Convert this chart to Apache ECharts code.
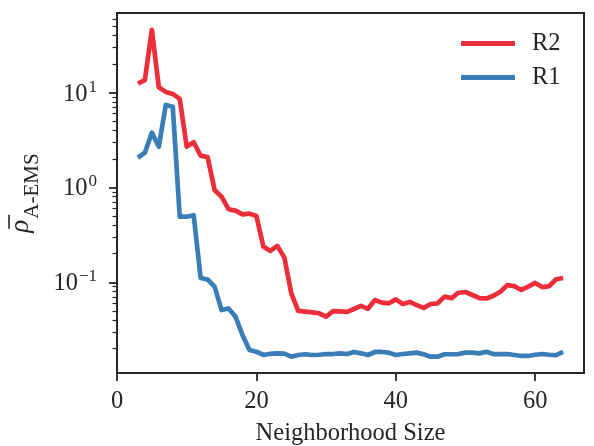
<!DOCTYPE html>
<html>
<head>
<meta charset="utf-8">
<script src="https://cdn.jsdelivr.net/npm/echarts@6/dist/echarts.min.js"></script>
<style>
  html, body { margin: 0; padding: 0; background: #ffffff; }
  #chart { width: 594px; height: 446px; }
</style>
</head>
<body>
<div id="chart"></div>
<script>
// Neighborhood sizes evaluated
const sizes = [3, 4, 5, 6, 7, 8, 9, 10, 11, 12, 13, 14, 15, 16, 17, 18, 19, 20,
  21, 22, 23, 24, 25, 26, 27, 28, 29, 30, 31, 32, 33, 34, 35, 36, 37, 38, 39, 40,
  41, 42, 43, 44, 45, 46, 47, 48, 49, 50, 51, 52, 53, 54, 55, 56, 57, 58, 59, 60,
  61, 62, 63, 64];

// Mean A-EMS value per neighborhood size, region R2
const r2 = [12.5, 13.6, 46, 11.4, 10.2, 9.7, 8.6, 2.7, 3.0, 2.17, 2.09, 0.94,
  0.80, 0.59, 0.57, 0.52, 0.53, 0.50, 0.238, 0.214, 0.242, 0.183, 0.077, 0.050,
  0.049, 0.0482, 0.0471, 0.0434, 0.0497, 0.0494, 0.0487, 0.0523, 0.0563, 0.0525,
  0.0650, 0.0610, 0.0600, 0.0660, 0.0590, 0.0620, 0.0575, 0.0537, 0.0590, 0.0600,
  0.0705, 0.0680, 0.0776, 0.0790, 0.0734, 0.0680, 0.0675, 0.0720, 0.0795, 0.0933,
  0.0910, 0.0830, 0.0900, 0.0985, 0.0890, 0.0910, 0.1076, 0.1110];

// Mean A-EMS value per neighborhood size, region R1
const r1 = [2.06, 2.33, 3.79, 2.69, 7.42, 7.11, 0.492, 0.492, 0.51, 0.111, 0.107,
  0.090, 0.051, 0.053, 0.0434, 0.0278, 0.0193, 0.0185, 0.0171, 0.0176, 0.0178,
  0.0177, 0.0164, 0.0171, 0.0174, 0.0171, 0.0172, 0.0175, 0.0175, 0.0178, 0.0175,
  0.0184, 0.0178, 0.0171, 0.0184, 0.0184, 0.0181, 0.0171, 0.0175, 0.0178, 0.0181,
  0.0174, 0.0164, 0.0164, 0.0174, 0.0174, 0.0175, 0.0181, 0.0181, 0.0178, 0.0185,
  0.0175, 0.0175, 0.0175, 0.0171, 0.0167, 0.0167, 0.0172, 0.0175, 0.0172, 0.0170,
  0.0184];

// Axis ticks
const xTicks = [0, 20, 40, 60];
const yMajorTicks = [0.1, 1, 10];
const yMinorTicks = [0.02, 0.03, 0.04, 0.05, 0.06, 0.07, 0.08, 0.09,
  0.2, 0.3, 0.4, 0.5, 0.6, 0.7, 0.8, 0.9,
  2, 3, 4, 5, 6, 7, 8, 9, 20, 30, 40, 50, 60];

const FONT = '"Liberation Serif", "DejaVu Serif", serif';
const INK = '#262626';
const RED = '#ec2d3a';
const BLUE = '#3a7db7';
const FS = 24.5;

const yMin = 0.01104, yMax = 69.3;

const chart = echarts.init(document.getElementById('chart'), null, { renderer: 'canvas' });

function pow10Label(v) {
  const e = Math.round(Math.log10(v));
  const exp = e < 0 ? '\u2212' + Math.abs(e) : String(e);
  return '{b|10}{s|' + exp + '}';
}

chart.setOption({
  animation: false,
  backgroundColor: '#ffffff',
  textStyle: { fontFamily: FONT },
  grid: {
    left: 117, right: 10, top: 13, bottom: 73,
    outerBoundsMode: 'none',
    containLabel: false,
    show: true, borderColor: INK, borderWidth: 2, backgroundColor: 'transparent'
  },
  legend: {
    orient: 'vertical',
    left: 461, top: 31,
    padding: 0,
    data: ['R2', 'R1'],
    icon: 'rect',
    itemWidth: 54, itemHeight: 5,
    itemGap: 9,
    textStyle: { fontFamily: FONT, fontSize: FS, color: INK, padding: [0, 0, 0, 12] }
  },
  xAxis: {
    type: 'value',
    min: 0, max: 67, interval: 20,
    name: 'Neighborhood Size',
    nameLocation: 'middle',
    nameGap: 48,
    nameTextStyle: { fontFamily: FONT, fontSize: FS, color: INK },
    axisLine: { show: true, lineStyle: { color: INK, width: 2 } },
    axisTick: { show: true, length: 8, lineStyle: { color: INK, width: 1.8 }, customValues: xTicks },
    axisLabel: { fontFamily: FONT, fontSize: FS, color: INK, margin: 16, customValues: xTicks },
    splitLine: { show: false }
  },
  yAxis: [{
    type: 'log',
    logBase: 10,
    min: yMin, max: yMax,
    // overbar drawn as a thin filled token on the line above the rho
    name: '{sp| }{bar| }\n{r|\u03C1}{sub|A-EMS}',
    nameLocation: 'middle',
    nameGap: 60,
    nameTextStyle: {
      fontFamily: FONT, color: INK,
      rich: {
        sp: { align: 'left', fontSize: 4, width: 4, height: 2, lineHeight: 3 },
        bar: { align: 'left', fontSize: 4, width: 14, height: 1.6, lineHeight: 3, backgroundColor: INK },
        r: { align: 'left', fontFamily: FONT, fontSize: 27, fontStyle: 'italic', color: INK, lineHeight: 24, verticalAlign: 'bottom' },
        sub: { align: 'left', fontFamily: FONT, fontSize: 21, color: INK, verticalAlign: 'bottom', padding: [0, 0, -8, 1] }
      }
    },
    axisLine: { show: true, lineStyle: { color: INK, width: 2 } },
    axisTick: { show: true, length: 8, lineStyle: { color: INK, width: 1.8 }, customValues: yMajorTicks },
    axisLabel: {
      fontFamily: FONT, color: INK, margin: 20,
      customValues: yMajorTicks,
      formatter: pow10Label,
      rich: {
        b: { fontFamily: FONT, fontSize: FS, color: INK, verticalAlign: 'bottom' },
        s: { fontFamily: FONT, fontSize: 17, color: INK, verticalAlign: 'top', padding: [0, 0, 11, 1] }
      }
    },
    splitLine: { show: false },
    minorTick: { show: false }
  }, {
    // minor log ticks (2..9 x 10^k) on the same scale
    type: 'log',
    logBase: 10,
    min: yMin, max: yMax,
    position: 'left',
    axisLine: { show: false },
    axisTick: { show: true, length: 4.5, lineStyle: { color: INK, width: 1.2 }, customValues: yMinorTicks },
    axisLabel: { show: false },
    splitLine: { show: false }
  }],
  series: [{
    name: 'R2',
    type: 'line',
    data: sizes.map((s, i) => [s, r2[i]]),
    showSymbol: false,
    symbol: 'none',
    lineStyle: { color: RED, width: 4.7, join: 'round', cap: 'butt' },
    itemStyle: { color: RED },
    z: 3
  }, {
    name: 'R1',
    type: 'line',
    data: sizes.map((s, i) => [s, r1[i]]),
    showSymbol: false,
    symbol: 'none',
    lineStyle: { color: BLUE, width: 4.7, join: 'round', cap: 'butt' },
    itemStyle: { color: BLUE },
    z: 3
  }]
});
</script>
</body>
</html>
